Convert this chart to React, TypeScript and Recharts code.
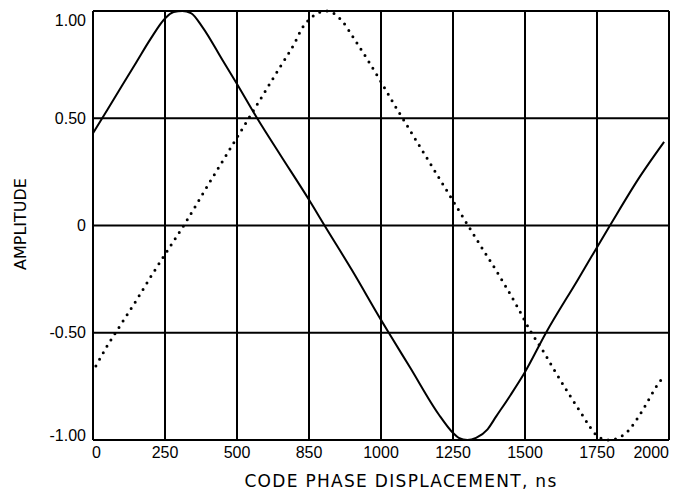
import React from 'react'
import {
  LineChart,
  Line,
  XAxis,
  YAxis,
  CartesianGrid,
  ReferenceLine,
  Label,
} from 'recharts'

// tick marks + labels (the original prints "850" under the 750 gridline)
const xTicks = [0, 250, 500, 750, 1000, 1250, 1500, 1750, 2000]
const xTickLabels = ['0', '250', '500', '850', '1000', '1250', '1500', '1750', '2000']
const yTicks = [-1, -0.5, 0, 0.5, 1]
const yTickLabels = ['-1.00', '-0.50', '0', '0.50', '1.00']

// solid curve
const solidX = [0, 50, 100, 150, 200, 250, 280, 310, 340, 380, 450, 500, 570, 650, 750, 804, 900, 1000, 1027, 1100, 1200, 1250, 1270, 1300, 1330, 1370, 1400, 1450, 1500, 1573, 1683, 1795, 1900, 1983]
const solidY = [0.43, 0.54, 0.65, 0.76, 0.87, 0.965, 0.995, 1.0, 0.99, 0.925, 0.77, 0.66, 0.5, 0.33, 0.12, 0.0, -0.21, -0.44, -0.5, -0.66, -0.88, -0.967, -0.99, -1.0, -0.99, -0.95, -0.89, -0.79, -0.683, -0.5, -0.254, 0.0, 0.23, 0.39]

// dotted curve
const dottedX = [10, 50, 100, 150, 200, 250, 315, 400, 500, 550, 600, 650, 700, 726, 750, 780, 810, 840, 870, 900, 950, 1000, 1050, 1100, 1150, 1200, 1250, 1300, 1355, 1400, 1476, 1521, 1568, 1600, 1650, 1700, 1725, 1750, 1790, 1830, 1860, 1880, 1915, 1960, 1984]
const dottedY = [-0.655, -0.56, -0.455, -0.35, -0.24, -0.135, 0.0, 0.19, 0.41, 0.52, 0.63, 0.74, 0.85, 0.92, 0.96, 0.99, 1.0, 0.985, 0.945, 0.885, 0.78, 0.67, 0.555, 0.445, 0.335, 0.225, 0.115, 0.005, -0.114, -0.21, -0.385, -0.497, -0.596, -0.67, -0.78, -0.885, -0.938, -0.98, -1.0, -0.986, -0.955, -0.92, -0.846, -0.743, -0.7]

const solidData = solidX.map((x, i) => ({ x, y: solidY[i] }))
const dottedData = dottedX.map((x, i) => ({ x, y: dottedY[i] }))

const tickFont = '"Liberation Sans", Arial, sans-serif'
const titleFont = '"DejaVu Sans", sans-serif'

function XTick(props: any) {
  const { x, y, payload } = props
  const i = xTicks.indexOf(payload.value)
  let anchor = 'middle'
  if (i === 0) anchor = 'start'
  if (i === xTicks.length - 1) anchor = 'end'
  return (
    <text x={i === 0 ? x - 1 : x} y={y + 4} textAnchor={anchor} dominantBaseline="central"
      fontFamily={tickFont} fontSize={16} fill="#000">
      {xTickLabels[i]}
    </text>
  )
}

function YTick(props: any) {
  const { x, y, payload } = props
  const i = yTicks.indexOf(payload.value)
  const ty = Math.min(Math.max(y, 20), 435)
  return (
    <text x={x + 1} y={ty} textAnchor="end" dominantBaseline="central"
      fontFamily={tickFont} fontSize={16} fill="#000">
      {yTickLabels[i]}
    </text>
  )
}

export default function App() {
  return (
    <div style={{ position: 'absolute', left: 0, top: 0, background: '#fff' }}>
      <LineChart width={682} height={496} margin={{ top: 11, right: 13, left: 0, bottom: 0 }}>
        <CartesianGrid stroke="#000" strokeWidth={2} horizontalValues={yTicks} verticalValues={xTicks} />
        <XAxis
          type="number"
          dataKey="x"
          domain={[0, 2000]}
          ticks={xTicks}
          tick={<XTick />}
          tickLine={false}
          axisLine={{ stroke: '#000', strokeWidth: 2 }}
          height={56}
          interval={0}
          allowDuplicatedCategory={false}
        >
          <Label
            content={() => (
              <text x={401} y={481} textAnchor="middle" dominantBaseline="central"
                fontFamily={titleFont} fontSize={17} letterSpacing={1.3} fill="#000">
                CODE PHASE DISPLACEMENT, ns
              </text>
            )}
          />
        </XAxis>
        <YAxis
          type="number"
          domain={[-1, 1]}
          ticks={yTicks}
          tick={<YTick />}
          tickLine={false}
          axisLine={{ stroke: '#000', strokeWidth: 2 }}
          width={93}
          interval={0}
        >
          <Label
            content={() => (
              <text x={20} y={224} transform="rotate(-90, 20, 224)" textAnchor="middle"
                dominantBaseline="central" fontFamily={titleFont} fontSize={16} fill="#000">
                AMPLITUDE
              </text>
            )}
          />
        </YAxis>
        <ReferenceLine x={2000} stroke="#000" strokeWidth={2} />
        <ReferenceLine y={1} stroke="#000" strokeWidth={2} />
        <Line
          data={solidData}
          dataKey="y"
          type="monotone"
          stroke="#000"
          strokeWidth={2}
          dot={false}
          isAnimationActive={false}
        />
        <Line
          data={dottedData}
          dataKey="y"
          type="monotone"
          stroke="#000"
          strokeWidth={3}
          strokeDasharray="0 7.5"
          strokeLinecap="round"
          dot={false}
          isAnimationActive={false}
        />
      </LineChart>
    </div>
  )
}
